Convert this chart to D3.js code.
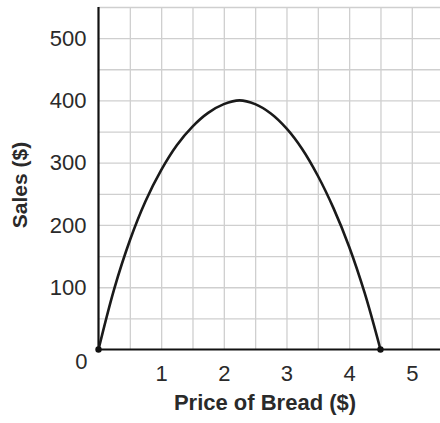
<!DOCTYPE html>
<html>
<head>
  <meta charset="UTF-8">
  <style>
    body { margin: 0; background: #fff; }
    svg { display: block; font-family: "Liberation Sans", Arial, sans-serif; }
    .grid line { stroke: #cfcfcf; stroke-width: 1.3; }
    .grid path { display: none; }
    .ticks path, .ticks line { display: none; }
    .ticks text { font-size: 22px; fill: #2a2a2a; }
  </style>
</head>
<body>
<svg></svg>
<script src="https://d3js.org/d3.v7.min.js"></script>
<script>

let width = 440, height = 423;

// values
let price = [0, 0.25, 0.5, 0.75, 1, 1.25, 1.5, 1.75, 2, 2.25, 2.5, 2.75, 3, 3.25, 3.5, 3.75, 4, 4.25, 4.5];
let sales = [0, 97, 175, 238, 288, 328, 358, 380, 394, 400, 394, 379, 355, 322, 279, 227, 165, 90, 0];
let endPoints = [[0, 0], [4.5, 0]];

let xGrid = [0.5, 1, 1.5, 2, 2.5, 3, 3.5, 4, 4.5, 5];
let yGrid = [50, 100, 150, 200, 250, 300, 350, 400, 450, 500, 550];
let xTicks = [1, 2, 3, 4, 5];
let yTicks = [100, 200, 300, 400, 500];

let svg = d3.select("svg")
    .attr("width", width)
    .attr("height", height)
    .attr("viewBox", "0 0 " + width + " " + height);

let x = d3.scaleLinear().domain([0, 5.45]).range([98.5, 440]);
let y = d3.scaleLinear().domain([0, 550]).range([349.5, 7]);

// grid
svg.append("g")
    .attr("class", "grid")
    .attr("transform", "translate(0," + y(0) + ")")
    .call(d3.axisBottom(x).tickValues(xGrid).tickSize(-(y(0) - y(550))).tickFormat(""));

svg.append("g")
    .attr("class", "grid")
    .attr("transform", "translate(" + x(0) + ",0)")
    .call(d3.axisLeft(y).tickValues(yGrid).tickSize(-(440 - x(0))).tickFormat(""));

// tick labels
svg.append("g")
    .attr("class", "ticks")
    .attr("transform", "translate(0," + y(0) + ")")
    .call(d3.axisBottom(x).tickValues(xTicks).tickSize(0).tickPadding(16).tickFormat(d3.format("d")));

svg.append("g")
    .attr("class", "ticks")
    .attr("transform", "translate(" + x(0) + ",0)")
    .call(d3.axisLeft(y).tickValues(yTicks).tickSize(0).tickPadding(12).tickFormat(d3.format("d")));

svg.append("text")
    .attr("x", x(0) - 11)
    .attr("y", y(0) + 19)
    .attr("text-anchor", "end")
    .attr("font-size", 22)
    .attr("fill", "#2a2a2a")
    .text("0");

// axis lines
svg.append("line")
    .attr("x1", x(0)).attr("x2", 440)
    .attr("y1", y(0)).attr("y2", y(0))
    .attr("stroke", "#111").attr("stroke-width", 2.2);

svg.append("line")
    .attr("x1", x(0)).attr("x2", x(0))
    .attr("y1", y(0)).attr("y2", y(550))
    .attr("stroke", "#111").attr("stroke-width", 2.2);

// curve
let pts = price.map((p, i) => [p, sales[i]]);

svg.append("path")
    .datum(pts)
    .attr("fill", "none")
    .attr("stroke", "#1a1a1a")
    .attr("stroke-width", 2.6)
    .attr("d", d3.line()
        .x(d => x(d[0]))
        .y(d => y(d[1]))
        .curve(d3.curveCatmullRom.alpha(0.5)));

svg.selectAll(".dot")
    .data(endPoints)
    .enter()
        .append("circle")
        .attr("cx", d => x(d[0]))
        .attr("cy", d => y(d[1]))
        .attr("r", 3.2)
        .attr("fill", "#111");

// axis titles
svg.append("text")
    .attr("x", 265)
    .attr("y", 410)
    .attr("text-anchor", "middle")
    .attr("font-size", 22)
    .attr("font-weight", "bold")
    .attr("fill", "#2a2a2a")
    .text("Price of Bread ($)");

svg.append("text")
    .attr("transform", "translate(27,185) rotate(-90)")
    .attr("text-anchor", "middle")
    .attr("font-size", 21)
    .attr("font-weight", "bold")
    .attr("fill", "#2a2a2a")
    .text("Sales ($)");

</script>
</body>
</html>
